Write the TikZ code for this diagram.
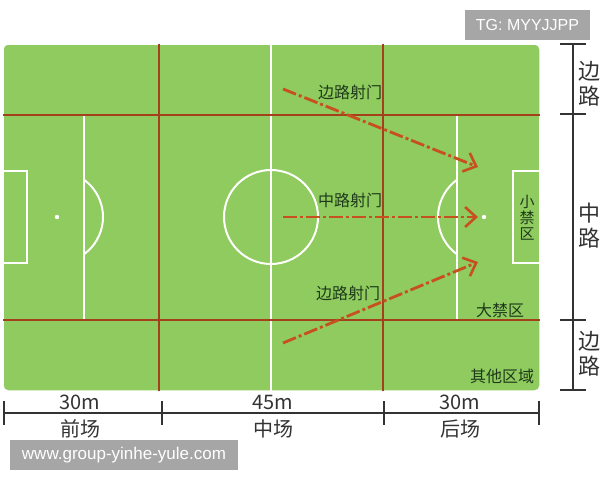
\documentclass[tikz,border=0pt]{standalone}
\usepackage{fontspec}
\setmainfont{Liberation Sans}
\newfontfamily\cjk{Noto Sans CJK SC}
\usetikzlibrary{arrows.meta}

\definecolor{grass}{HTML}{8FCB5E}
\definecolor{zoneline}{HTML}{A5401C}
\definecolor{shot}{HTML}{C8501E}
\definecolor{fieldtext}{HTML}{1E3A1A}
\definecolor{dimtext}{HTML}{333333}
\definecolor{markbox}{HTML}{A6A6A6}

\tikzset{
  chalk/.style={draw=white, line width=2pt},
  zone/.style={draw=zoneline, line width=1.6pt},
  shotline/.style={draw=shot, line width=2.8pt,
    dash pattern=on 14pt off 3pt on 3pt off 3pt,
    -{Straight Barb[length=11pt,width=20pt,line width=2.6pt]}},
  shotlabel/.style={font=\cjk\fontsize{16}{16}\selectfont, text=fieldtext},
  dimline/.style={draw=dimtext, line width=1.2pt},
  dimlabel/.style={font=\cjk\fontsize{20}{20}\selectfont, text=dimtext, inner sep=0pt},
  stamp/.style={fill=markbox, text=white, inner sep=0pt, font=\fontsize{16}{16}\selectfont}
}

\begin{document}
\begin{tikzpicture}[x=1pt,y=-1pt]
\useasboundingbox (0,0) rectangle (600,480);

% pitch
\fill[grass, rounded corners=5pt] (3,44) rectangle (540,391);
\draw[chalk, line width=1.5pt, rounded corners=5pt] (3,44) rectangle (540,391);
\draw[chalk] (271,44) -- (271,391);
\draw[chalk] (271,217) circle (47);
\draw[chalk] (3,115) rectangle (84,320);
\draw[chalk] (3,171) rectangle (27,263);
\draw[chalk] (540,115) rectangle (457,320);
\draw[chalk] (540,171) rectangle (513,263);
\draw[chalk] (57,217) ++(-54:46) arc[start angle=-54, end angle=54, radius=46];
\draw[chalk] (484,217) ++(126:46) arc[start angle=126, end angle=234, radius=46];
\fill[white] (57,217) circle (2.2);
\fill[white] (484,217) circle (2.2);

% zones
\draw[zone] (3,115) -- (540,115);
\draw[zone] (3,320) -- (540,320);
\draw[zone] (159,44) -- (159,391);
\draw[zone] (383,44) -- (383,391);

% shots
\coordinate (topstart) at (283,89);
\coordinate (midstart) at (283,217);
\coordinate (lowstart) at (283,343);
\coordinate (topgoal) at (478,167);
\coordinate (midgoal) at (478,217);
\coordinate (lowgoal) at (478,262);
\draw[shotline] (topstart) -- (topgoal);
\draw[shotline] (midstart) -- (midgoal);
\draw[shotline] (lowstart) -- (lowgoal);
\node[shotlabel] (toplabel) at (350,92) {边路射门};
\node[shotlabel] (midlabel) at (350,200) {中路射门};
\node[shotlabel] (lowlabel) at (348,293) {边路射门};

\node[shotlabel, align=center, font=\cjk\fontsize{15}{16}\selectfont] (smallbox) at (527,218) {小\\禁\\区};
\node[shotlabel] (bigbox) at (500,310) {大禁区};
\node[shotlabel] (otherarea) at (502,376) {其他区域};

% side measure
\draw[dimline] (573,44) -- (573,390);
\foreach \y in {44,114,320,390}
  \draw[dimline] (560,\y) -- (586,\y);
\node[dimlabel, align=center, font=\cjk\fontsize{22}{25}\selectfont] (wingtop) at (589,84) {边\\路};
\node[dimlabel, align=center, font=\cjk\fontsize{22}{25}\selectfont] (centre) at (589,226) {中\\路};
\node[dimlabel, align=center, font=\cjk\fontsize{22}{25}\selectfont] (wingbot) at (589,354) {边\\路};

% length measure
\draw[dimline] (4,413) -- (539,413);
\foreach \x in {4,162,384,539}
  \draw[dimline] (\x,401) -- (\x,425);
\node[dimlabel] (frontlen) at (80,402) {30m};
\node[dimlabel] (midlen) at (273,402) {45m};
\node[dimlabel] (backlen) at (460,402) {30m};
\node[dimlabel] (front) at (80,429) {前场};
\node[dimlabel] (middle) at (273,429) {中场};
\node[dimlabel] (back) at (460,429) {后场};

% stamps
\node[stamp, minimum width=125pt, minimum height=30pt] (tg) at (527.5,25) {TG: MYYJJPP};
\node[stamp, minimum width=228pt, minimum height=30pt, font=\fontsize{17}{17}\selectfont] (site) at (124,455) {www.group-yinhe-yule.com};
\end{tikzpicture}
\end{document}
